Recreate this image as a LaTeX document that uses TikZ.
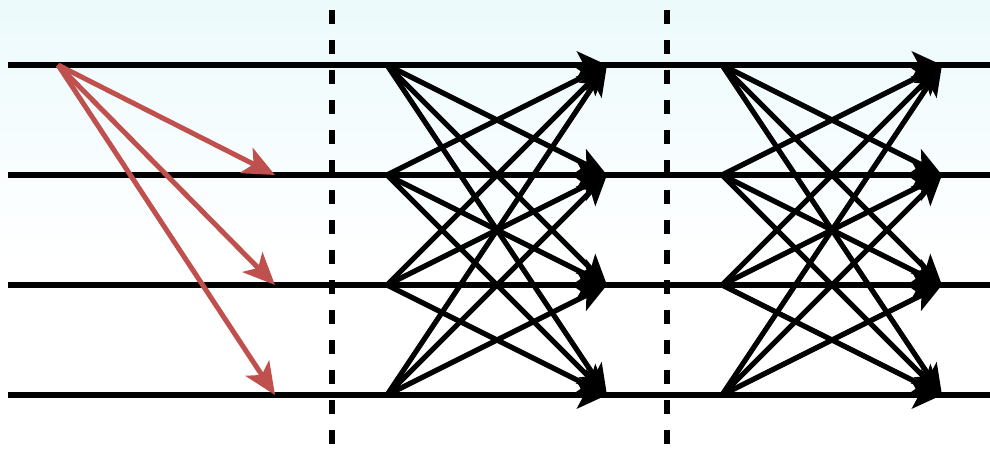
\documentclass[tikz,border=0pt]{standalone}
\usetikzlibrary{arrows.meta}
\definecolor{bgtop}{RGB}{236,250,252}
\definecolor{spreadred}{RGB}{192,80,77}
\begin{document}
\begin{tikzpicture}[x=1pt,y=-1pt,
    level/.style={line width=5.5pt},
    stage/.style={line width=5.5pt,dash pattern=on 14pt off 16pt},
    link/.style={line width=5.2pt,-{Stealth[length=30pt,width=27pt,inset=7pt]}},
    seed/.style={spreadred,line width=5pt,-{Stealth[length=32pt,width=28pt,inset=8pt]}}]
    \useasboundingbox (0,0) rectangle (990,449);
    \shade[top color=bgtop,bottom color=white] (0,0) rectangle (990,260);
    % named points on the four levels
    \foreach \i in {1,...,4} {
        \coordinate (L\i) at (8,{65+110*(\i-1)});
        \coordinate (R\i) at (990,{65+110*(\i-1)});
        \coordinate (A\i) at (275,{65+110*(\i-1)});
        \coordinate (S\i) at (387,{65+110*(\i-1)});
        \coordinate (E\i) at (607,{65+110*(\i-1)});
        \coordinate (T\i) at (722,{65+110*(\i-1)});
        \coordinate (F\i) at (942,{65+110*(\i-1)});
        \draw[level] (L\i) -- (R\i);
    }
    \coordinate (origin) at (58,65);
    \coordinate (cut1top) at (332,10);
    \coordinate (cut1bot) at (332,449);
    \coordinate (cut2top) at (667,10);
    \coordinate (cut2bot) at (667,449);
    \draw[stage] (cut1top) -- (cut1bot);
    \draw[stage] (cut2top) -- (cut2bot);
    % first spread
    \foreach \j in {2,3,4}
        \draw[seed] (origin) -- (A\j);
    % all to all, twice
    \foreach \i in {1,...,4}
        \foreach \j in {1,...,4} {
            \draw[link] (S\i) -- (E\j);
            \draw[link] (T\i) -- (F\j);
        }
\end{tikzpicture}
\end{document}
